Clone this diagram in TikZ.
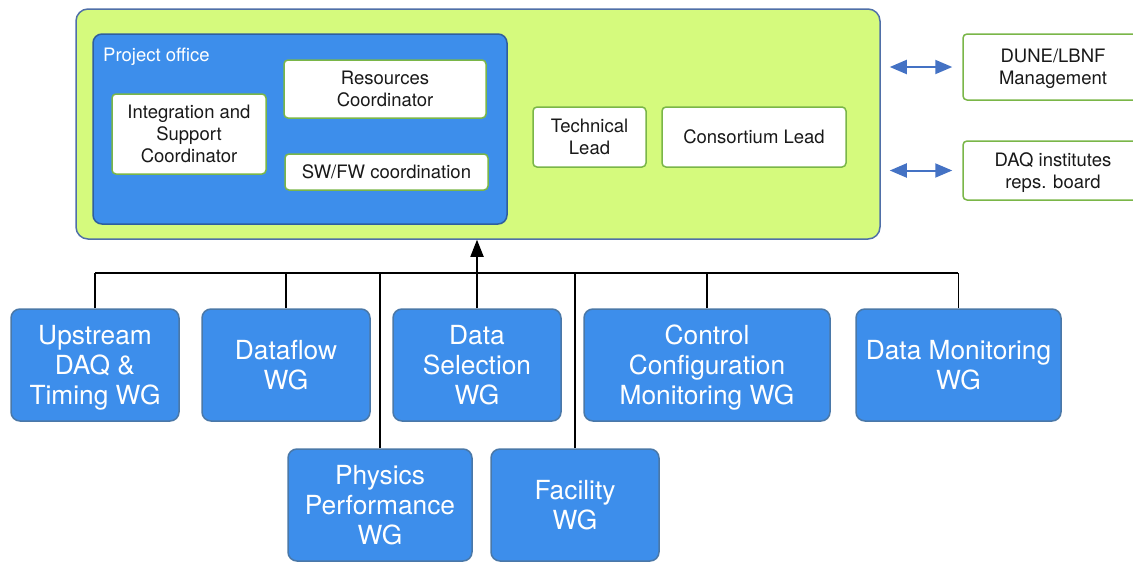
\documentclass[tikz,border=0pt]{standalone}
\usepackage{fontspec}
\setmainfont{TeX Gyre Heros}
\usetikzlibrary{arrows.meta}
\definecolor{outerfill}{HTML}{D5FA7D}
\definecolor{outerdraw}{HTML}{4F6FA8}
\definecolor{bluefill}{HTML}{3D8EEB}
\definecolor{podraw}{HTML}{2F5E9E}
\definecolor{wgdraw}{HTML}{4A78A8}
\definecolor{greendraw}{HTML}{7AB648}
\definecolor{arrblue}{HTML}{4472C4}
\tikzset{
  outerbox/.style={draw=outerdraw, fill=outerfill, line width=1.5pt, rounded corners=12pt, inner sep=0pt},
  pobox/.style={draw=podraw, fill=bluefill, line width=1.5pt, rounded corners=9pt, inner sep=0pt},
  whitebox/.style={draw=greendraw, fill=white, line width=1.5pt, rounded corners=4pt, align=center, inner sep=0pt,
     font=\fontsize{18.5}{22}\selectfont, text=black!90},
  multiline/.style={text depth=-3.5pt},
  wgbox/.style={draw=wgdraw, fill=bluefill, line width=1.5pt, rounded corners=9pt, align=center, inner sep=0pt,
     minimum width=168pt, minimum height=112pt, font=\fontsize{26.3}{30}\selectfont, text=white,
     text depth=0pt},
  conn/.style={draw=black, line width=1.5pt},
  upconn/.style={draw=black, line width=1.8pt, -{Triangle[length=17pt,width=13pt]}},
  dbl/.style={draw=arrblue, line width=2pt, {Triangle[length=17pt,width=14pt]}-{Triangle[length=17pt,width=14pt]}},
}
\begin{document}
\begin{tikzpicture}[x=1pt,y=-1pt]
\useasboundingbox (0,0) rectangle (1133,562);
% top structure
\node[outerbox, minimum width=804pt, minimum height=230pt] (outer) at (478,124) {};
\node[pobox, minimum width=414pt, minimum height=190pt] (po) at (300,129) {};
\node[anchor=base west, text=white, font=\fontsize{18.5}{22}\selectfont, inner sep=0pt] (polabel) at (103,61) {Project office};
\node[whitebox, multiline, minimum width=154pt, minimum height=80pt] (integ) at (189,134) {Integration and\\Support\\Coordinator};
\node[whitebox, multiline, minimum width=202pt, minimum height=58pt] (res) at (385,89) {Resources\\Coordinator};
\node[whitebox, minimum width=203pt, minimum height=36pt] (sw) at (386.5,172) {SW/FW coordination};
\node[whitebox, multiline, minimum width=113pt, minimum height=60pt] (tech) at (589.5,137) {Technical\\Lead};
\node[whitebox, minimum width=184pt, minimum height=60pt] (cons) at (754,137) {Consortium Lead};
\node[whitebox, multiline, minimum width=180pt, minimum height=66pt] (dune) at (1053,67) {DUNE/LBNF\\Management};
\node[whitebox, multiline, minimum width=180pt, minimum height=59pt] (daq) at (1053,170.5) {DAQ institutes\\reps. board};
\draw[dbl] ([xshift=9pt]outer.east |- dune.west) -- ([xshift=-10pt]dune.west);
\draw[dbl] ([xshift=9pt]outer.east |- daq.west) -- ([xshift=-10pt]daq.west);
% working groups
\node[wgbox] (up) at (95,365) {Upstream\\DAQ \&\\Timing WG};
\node[wgbox] (flow) at (286,365) {Dataflow\\WG};
\node[wgbox] (sel) at (477,365) {Data\\Selection\\WG};
\node[wgbox, minimum width=246pt] (ctrl) at (707,365) {Control\\Configuration\\Monitoring WG};
\node[wgbox, minimum width=205pt] (mon) at (958.5,365) {Data Monitoring\\WG};
\node[wgbox, minimum width=184pt] (phys) at (380,505) {Physics\\Performance\\WG};
\node[wgbox] (fac) at (575,505) {Facility\\WG};
% connectors
\coordinate (busL) at (95,273);
\coordinate (busR) at (958,273);
\draw[conn] (busL) -- (busR);
\draw[conn] (up.north) -- (up.north |- busL);
\draw[conn] (flow.north) -- (flow.north |- busL);
\draw[conn] (ctrl.north) -- (ctrl.north |- busL);
\draw[conn] (mon.north) -- (mon.north |- busL);
\draw[conn] (phys.north) -- (phys.north |- busL);
\draw[conn] (fac.north) -- (fac.north |- busL);
\draw[upconn] (sel.north) -- (sel.north |- outer.south);
\end{tikzpicture}
\end{document}
